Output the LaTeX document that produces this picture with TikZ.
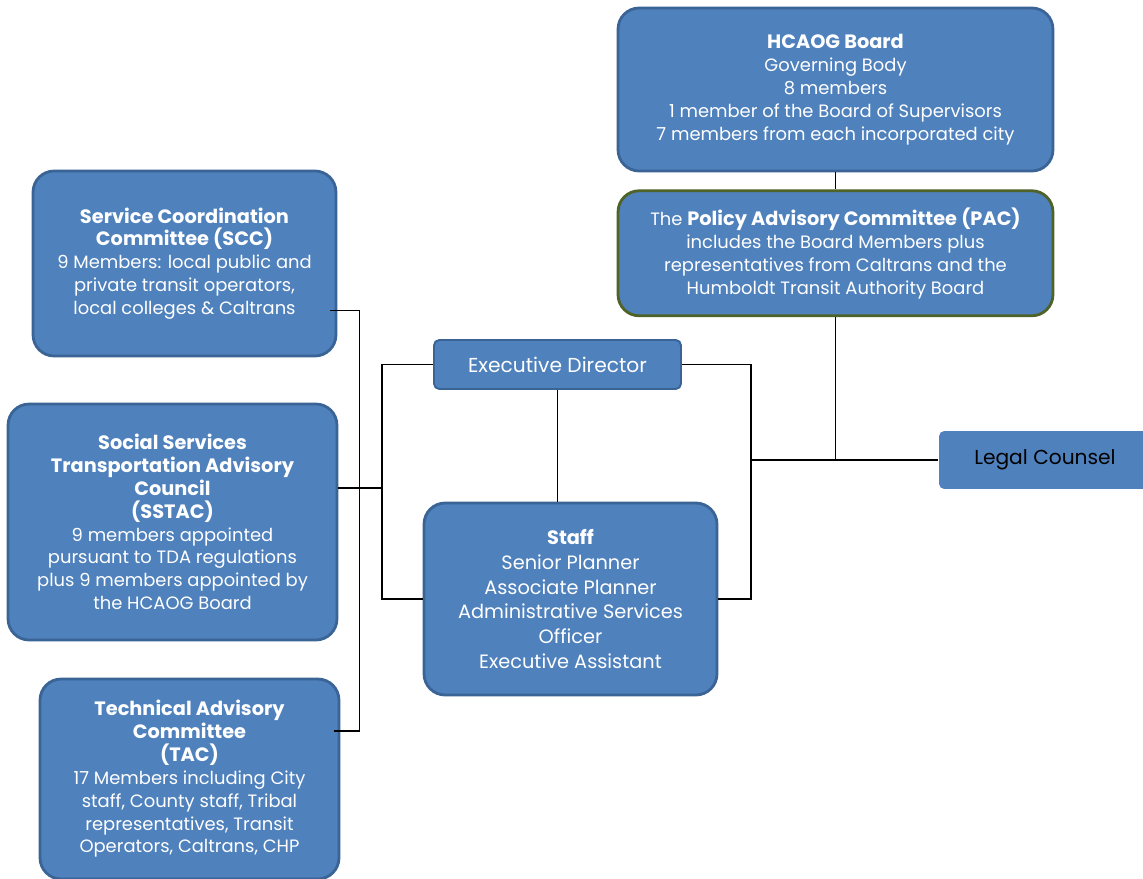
\documentclass[tikz,border=0pt]{standalone}
\usepackage{fontspec}
\setmainfont{Poppins}
\usetikzlibrary{calc,positioning}
\definecolor{boxblue}{HTML}{4F81BD}
\definecolor{boxedge}{HTML}{3B6496}
\definecolor{pacedge}{HTML}{4F6228}
\newcommand{\hd}[1]{{\fontsize{11}{13.5}\selectfont\bfseries #1}}
\tikzset{
  unit/.style={draw=boxedge, line width=1.6pt, fill=boxblue, rounded corners=12pt,
    align=center, text=white, inner sep=2pt, font=\fontsize{10.2}{13}\selectfont},
  bigunit/.style={unit, minimum width=8.7cm},
  post/.style={unit, rounded corners=3pt, line width=1.1pt, font=\fontsize{11.5}{13}\selectfont},
  counsel/.style={post, draw=none, text=black},
  conn/.style={draw=black, line width=0.75pt}
}

\begin{document}
\begin{tikzpicture}[x=0.02cm, y=-0.02cm]
  \path[use as bounding box, fill=white] (0,0) rectangle (1143,879);

  \node[bigunit, minimum height=3.26cm] (board) at (835.5,89.5)
    {\hd{HCAOG Board}\\Governing Body\\8 members\\1 member of the Board of Supervisors\\7 members from each incorporated city};
  \node[bigunit, draw=pacedge, minimum height=2.5cm, below=0.34cm of board] (pac)
    {The \hd{Policy Advisory Committee (PAC)}\\includes the Board Members plus\\representatives from Caltrans and the\\Humboldt Transit Authority Board};

  \node[unit, minimum width=6.06cm, minimum height=3.7cm] (scc) at (184.5,263.5)
    {\hd{Service Coordination}\\\hd{Committee (SCC)}\\9 Members: local public and\\private transit operators,\\local colleges \& Caltrans};
  \node[unit, minimum width=6.58cm, minimum height=4.72cm] (sstac) at (172.5,522)
    {\hd{Social Services}\\\hd{Transportation Advisory}\\\hd{Council}\\\hd{(SSTAC)}\\9 members appointed\\pursuant to TDA regulations\\plus 9 members appointed by\\the HCAOG Board};
  \node[unit, minimum width=5.98cm, minimum height=4.0cm] (tac) at (189.5,779)
    {\hd{Technical Advisory}\\\hd{Committee}\\\hd{(TAC)}\\17 Members including City\\staff, County staff, Tribal\\representatives, Transit\\Operators, Caltrans, CHP};

  \node[post, minimum width=4.94cm, minimum height=0.98cm] (exec) at (557.5,364.5) {Executive Director};
  \node[unit, minimum width=5.86cm, minimum height=3.84cm, font=\fontsize{11}{14.2}\selectfont] (staff) at (570.5,599)
    {\hd{Staff}\\Senior Planner\\Associate Planner\\Administrative Services\\Officer\\Executive Assistant};
  \node[counsel, minimum width=4.24cm, minimum height=1.16cm] (legal) at (1045,460) {Legal Counsel};

  \coordinate (rbus) at ($(exec.east)+(69,0)$);
  \coordinate (lbus) at ($(exec.west)+(-51,0)$);
  \coordinate (sccend) at ($(scc.east)+(-7,47)$);
  \coordinate (tacend) at ($(tac.east)+(-6,-48)$);

  \draw[conn] (board.south) -- (pac.north);
  \draw[conn] (pac.south) -- (pac.south |- legal.west);
  \draw[conn] (rbus |- legal.west) -- (legal.west);
  \draw[conn] (exec.east) -- (rbus) |- (staff.east);
  \draw[conn] (exec.west) -- (lbus) |- (staff.west);
  \draw[conn] (exec.south) -- (exec.south |- staff.north);
  \draw[conn] (sccend) -- ++(29,0) |- (tacend);
  \draw[conn] ($(sstac.east)+(0,-34)$) -- (lbus |- {$(sstac.east)+(0,-34)$});
\end{tikzpicture}
\end{document}
